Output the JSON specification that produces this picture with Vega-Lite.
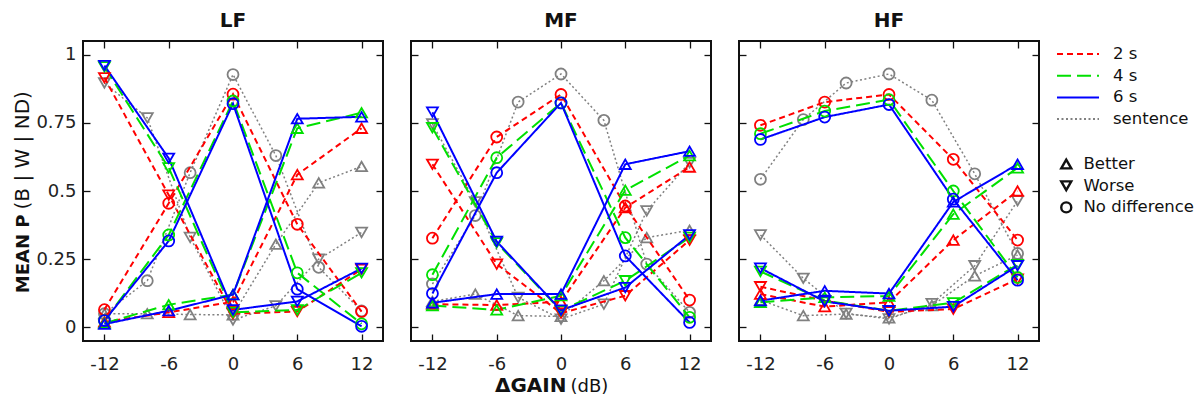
{
"$schema": "https://vega.github.io/schema/vega-lite/v6.json",
"padding": {"left": 11, "top": 10, "right": 0, "bottom": 0},
"config": {
  "font": "DejaVu Sans",
  "view": {"stroke": "#111", "strokeWidth": 2},
  "axis": {"domain": false, "grid": false, "tickColor": "#111", "tickWidth": 1.3, "tickSize": -7, "labelFlush": false, "labelFont": "DejaVu Sans", "labelFontSize": 18, "labelColor": "#222", "titleFont": "DejaVu Sans", "titleColor": "#111"},
  "axisX": {"labelPadding": 21},
  "axisY": {"labelPadding": 14},
  "legend": {"labelFont": "DejaVu Sans", "labelFontSize": 16.5, "labelColor": "#111", "symbolBaseStrokeColor": "#111", "symbolBaseFillColor": "transparent", "clipHeight": 20, "rowPadding": 1.7},
  "title": {"font": "DejaVu Sans", "fontSize": 20, "fontWeight": "bold", "color": "#111", "offset": 9, "frame": "group", "baseline": "alphabetic"}
},
"data": {"values": [
{"p":"LF","s":"sentence","t":"Better","x":-12,"y":0.05},{"p":"LF","s":"sentence","t":"Better","x":-8,"y":0.05},{"p":"LF","s":"sentence","t":"Better","x":-4,"y":0.047},{"p":"LF","s":"sentence","t":"Better","x":0,"y":0.046},{"p":"LF","s":"sentence","t":"Better","x":4,"y":0.305},{"p":"LF","s":"sentence","t":"Better","x":8,"y":0.53},{"p":"LF","s":"sentence","t":"Better","x":12,"y":0.59},
{"p":"LF","s":"sentence","t":"Worse","x":-12,"y":0.896},{"p":"LF","s":"sentence","t":"Worse","x":-8,"y":0.768},{"p":"LF","s":"sentence","t":"Worse","x":-4,"y":0.33},{"p":"LF","s":"sentence","t":"Worse","x":0,"y":0.027},{"p":"LF","s":"sentence","t":"Worse","x":4,"y":0.079},{"p":"LF","s":"sentence","t":"Worse","x":8,"y":0.25},{"p":"LF","s":"sentence","t":"Worse","x":12,"y":0.348},
{"p":"LF","s":"sentence","t":"No difference","x":-12,"y":0.05},{"p":"LF","s":"sentence","t":"No difference","x":-8,"y":0.171},{"p":"LF","s":"sentence","t":"No difference","x":-4,"y":0.567},{"p":"LF","s":"sentence","t":"No difference","x":0,"y":0.927},{"p":"LF","s":"sentence","t":"No difference","x":4,"y":0.63},{"p":"LF","s":"sentence","t":"No difference","x":8,"y":0.22},{"p":"LF","s":"sentence","t":"No difference","x":12,"y":0.06},
{"p":"LF","s":"2 s","t":"Better","x":-12,"y":0.02},{"p":"LF","s":"2 s","t":"Better","x":-6,"y":0.055},{"p":"LF","s":"2 s","t":"Better","x":0,"y":0.094},{"p":"LF","s":"2 s","t":"Better","x":6,"y":0.56},{"p":"LF","s":"2 s","t":"Better","x":12,"y":0.73},
{"p":"LF","s":"2 s","t":"Worse","x":-12,"y":0.915},{"p":"LF","s":"2 s","t":"Worse","x":-6,"y":0.485},{"p":"LF","s":"2 s","t":"Worse","x":0,"y":0.05},{"p":"LF","s":"2 s","t":"Worse","x":6,"y":0.058},{"p":"LF","s":"2 s","t":"Worse","x":12,"y":0.213},
{"p":"LF","s":"2 s","t":"No difference","x":-12,"y":0.065},{"p":"LF","s":"2 s","t":"No difference","x":-6,"y":0.455},{"p":"LF","s":"2 s","t":"No difference","x":0,"y":0.855},{"p":"LF","s":"2 s","t":"No difference","x":6,"y":0.378},{"p":"LF","s":"2 s","t":"No difference","x":12,"y":0.058},
{"p":"LF","s":"4 s","t":"Better","x":-12,"y":0.015},{"p":"LF","s":"4 s","t":"Better","x":-6,"y":0.083},{"p":"LF","s":"4 s","t":"Better","x":0,"y":0.12},{"p":"LF","s":"4 s","t":"Better","x":6,"y":0.73},{"p":"LF","s":"4 s","t":"Better","x":12,"y":0.787},
{"p":"LF","s":"4 s","t":"Worse","x":-12,"y":0.955},{"p":"LF","s":"4 s","t":"Worse","x":-6,"y":0.585},{"p":"LF","s":"4 s","t":"Worse","x":0,"y":0.055},{"p":"LF","s":"4 s","t":"Worse","x":6,"y":0.064},{"p":"LF","s":"4 s","t":"Worse","x":12,"y":0.2},
{"p":"LF","s":"4 s","t":"No difference","x":-12,"y":0.025},{"p":"LF","s":"4 s","t":"No difference","x":-6,"y":0.339},{"p":"LF","s":"4 s","t":"No difference","x":0,"y":0.83},{"p":"LF","s":"4 s","t":"No difference","x":6,"y":0.2},{"p":"LF","s":"4 s","t":"No difference","x":12,"y":0.013},
{"p":"LF","s":"6 s","t":"Better","x":-12,"y":0.012},{"p":"LF","s":"6 s","t":"Better","x":-6,"y":0.061},{"p":"LF","s":"6 s","t":"Better","x":0,"y":0.12},{"p":"LF","s":"6 s","t":"Better","x":6,"y":0.765},{"p":"LF","s":"6 s","t":"Better","x":12,"y":0.772},
{"p":"LF","s":"6 s","t":"Worse","x":-12,"y":0.96},{"p":"LF","s":"6 s","t":"Worse","x":-6,"y":0.62},{"p":"LF","s":"6 s","t":"Worse","x":0,"y":0.064},{"p":"LF","s":"6 s","t":"Worse","x":6,"y":0.095},{"p":"LF","s":"6 s","t":"Worse","x":12,"y":0.216},
{"p":"LF","s":"6 s","t":"No difference","x":-12,"y":0.025},{"p":"LF","s":"6 s","t":"No difference","x":-6,"y":0.317},{"p":"LF","s":"6 s","t":"No difference","x":0,"y":0.82},{"p":"LF","s":"6 s","t":"No difference","x":6,"y":0.14},{"p":"LF","s":"6 s","t":"No difference","x":12,"y":0.004},
{"p":"MF","s":"sentence","t":"Better","x":-12,"y":0.095},{"p":"MF","s":"sentence","t":"Better","x":-8,"y":0.122},{"p":"MF","s":"sentence","t":"Better","x":-4,"y":0.043},{"p":"MF","s":"sentence","t":"Better","x":0,"y":0.04},{"p":"MF","s":"sentence","t":"Better","x":4,"y":0.171},{"p":"MF","s":"sentence","t":"Better","x":8,"y":0.329},{"p":"MF","s":"sentence","t":"Better","x":12,"y":0.356},
{"p":"MF","s":"sentence","t":"Worse","x":-12,"y":0.746},{"p":"MF","s":"sentence","t":"Worse","x":-8,"y":0.46},{"p":"MF","s":"sentence","t":"Worse","x":-4,"y":0.11},{"p":"MF","s":"sentence","t":"Worse","x":0,"y":0.03},{"p":"MF","s":"sentence","t":"Worse","x":4,"y":0.085},{"p":"MF","s":"sentence","t":"Worse","x":8,"y":0.427},{"p":"MF","s":"sentence","t":"Worse","x":12,"y":0.604},
{"p":"MF","s":"sentence","t":"No difference","x":-12,"y":0.159},{"p":"MF","s":"sentence","t":"No difference","x":-8,"y":0.41},{"p":"MF","s":"sentence","t":"No difference","x":-4,"y":0.826},{"p":"MF","s":"sentence","t":"No difference","x":0,"y":0.929},{"p":"MF","s":"sentence","t":"No difference","x":4,"y":0.759},{"p":"MF","s":"sentence","t":"No difference","x":8,"y":0.232},{"p":"MF","s":"sentence","t":"No difference","x":12,"y":0.055},
{"p":"MF","s":"2 s","t":"Better","x":-12,"y":0.085},{"p":"MF","s":"2 s","t":"Better","x":-6,"y":0.082},{"p":"MF","s":"2 s","t":"Better","x":0,"y":0.094},{"p":"MF","s":"2 s","t":"Better","x":6,"y":0.439},{"p":"MF","s":"2 s","t":"Better","x":12,"y":0.588},
{"p":"MF","s":"2 s","t":"Worse","x":-12,"y":0.598},{"p":"MF","s":"2 s","t":"Worse","x":-6,"y":0.232},{"p":"MF","s":"2 s","t":"Worse","x":0,"y":0.052},{"p":"MF","s":"2 s","t":"Worse","x":6,"y":0.116},{"p":"MF","s":"2 s","t":"Worse","x":12,"y":0.32},
{"p":"MF","s":"2 s","t":"No difference","x":-12,"y":0.327},{"p":"MF","s":"2 s","t":"No difference","x":-6,"y":0.698},{"p":"MF","s":"2 s","t":"No difference","x":0,"y":0.854},{"p":"MF","s":"2 s","t":"No difference","x":6,"y":0.445},{"p":"MF","s":"2 s","t":"No difference","x":12,"y":0.1},
{"p":"MF","s":"4 s","t":"Better","x":-12,"y":0.08},{"p":"MF","s":"4 s","t":"Better","x":-6,"y":0.064},{"p":"MF","s":"4 s","t":"Better","x":0,"y":0.116},{"p":"MF","s":"4 s","t":"Better","x":6,"y":0.503},{"p":"MF","s":"4 s","t":"Better","x":12,"y":0.63},
{"p":"MF","s":"4 s","t":"Worse","x":-12,"y":0.732},{"p":"MF","s":"4 s","t":"Worse","x":-6,"y":0.31},{"p":"MF","s":"4 s","t":"Worse","x":0,"y":0.061},{"p":"MF","s":"4 s","t":"Worse","x":6,"y":0.171},{"p":"MF","s":"4 s","t":"Worse","x":12,"y":0.33},
{"p":"MF","s":"4 s","t":"No difference","x":-12,"y":0.193},{"p":"MF","s":"4 s","t":"No difference","x":-6,"y":0.622},{"p":"MF","s":"4 s","t":"No difference","x":0,"y":0.823},{"p":"MF","s":"4 s","t":"No difference","x":6,"y":0.329},{"p":"MF","s":"4 s","t":"No difference","x":12,"y":0.037},
{"p":"MF","s":"6 s","t":"Better","x":-12,"y":0.09},{"p":"MF","s":"6 s","t":"Better","x":-6,"y":0.122},{"p":"MF","s":"6 s","t":"Better","x":0,"y":0.122},{"p":"MF","s":"6 s","t":"Better","x":6,"y":0.598},{"p":"MF","s":"6 s","t":"Better","x":12,"y":0.646},
{"p":"MF","s":"6 s","t":"Worse","x":-12,"y":0.789},{"p":"MF","s":"6 s","t":"Worse","x":-6,"y":0.315},{"p":"MF","s":"6 s","t":"Worse","x":0,"y":0.063},{"p":"MF","s":"6 s","t":"Worse","x":6,"y":0.146},{"p":"MF","s":"6 s","t":"Worse","x":12,"y":0.339},
{"p":"MF","s":"6 s","t":"No difference","x":-12,"y":0.124},{"p":"MF","s":"6 s","t":"No difference","x":-6,"y":0.567},{"p":"MF","s":"6 s","t":"No difference","x":0,"y":0.823},{"p":"MF","s":"6 s","t":"No difference","x":6,"y":0.262},{"p":"MF","s":"6 s","t":"No difference","x":12,"y":0.018},
{"p":"HF","s":"sentence","t":"Better","x":-12,"y":0.1},{"p":"HF","s":"sentence","t":"Better","x":-8,"y":0.043},{"p":"HF","s":"sentence","t":"Better","x":-4,"y":0.049},{"p":"HF","s":"sentence","t":"Better","x":0,"y":0.035},{"p":"HF","s":"sentence","t":"Better","x":4,"y":0.08},{"p":"HF","s":"sentence","t":"Better","x":8,"y":0.189},{"p":"HF","s":"sentence","t":"Better","x":12,"y":0.265},
{"p":"HF","s":"sentence","t":"Worse","x":-12,"y":0.339},{"p":"HF","s":"sentence","t":"Worse","x":-8,"y":0.18},{"p":"HF","s":"sentence","t":"Worse","x":-4,"y":0.051},{"p":"HF","s":"sentence","t":"Worse","x":0,"y":0.031},{"p":"HF","s":"sentence","t":"Worse","x":4,"y":0.087},{"p":"HF","s":"sentence","t":"Worse","x":8,"y":0.226},{"p":"HF","s":"sentence","t":"Worse","x":12,"y":0.464},
{"p":"HF","s":"sentence","t":"No difference","x":-12,"y":0.543},{"p":"HF","s":"sentence","t":"No difference","x":-8,"y":0.762},{"p":"HF","s":"sentence","t":"No difference","x":-4,"y":0.896},{"p":"HF","s":"sentence","t":"No difference","x":0,"y":0.929},{"p":"HF","s":"sentence","t":"No difference","x":4,"y":0.833},{"p":"HF","s":"sentence","t":"No difference","x":8,"y":0.563},{"p":"HF","s":"sentence","t":"No difference","x":12,"y":0.271},
{"p":"HF","s":"2 s","t":"Better","x":-12,"y":0.122},{"p":"HF","s":"2 s","t":"Better","x":-6,"y":0.076},{"p":"HF","s":"2 s","t":"Better","x":0,"y":0.092},{"p":"HF","s":"2 s","t":"Better","x":6,"y":0.32},{"p":"HF","s":"2 s","t":"Better","x":12,"y":0.5},
{"p":"HF","s":"2 s","t":"Worse","x":-12,"y":0.149},{"p":"HF","s":"2 s","t":"Worse","x":-6,"y":0.098},{"p":"HF","s":"2 s","t":"Worse","x":0,"y":0.057},{"p":"HF","s":"2 s","t":"Worse","x":6,"y":0.067},{"p":"HF","s":"2 s","t":"Worse","x":12,"y":0.177},
{"p":"HF","s":"2 s","t":"No difference","x":-12,"y":0.741},{"p":"HF","s":"2 s","t":"No difference","x":-6,"y":0.826},{"p":"HF","s":"2 s","t":"No difference","x":0,"y":0.854},{"p":"HF","s":"2 s","t":"No difference","x":6,"y":0.616},{"p":"HF","s":"2 s","t":"No difference","x":12,"y":0.32},
{"p":"HF","s":"4 s","t":"Better","x":-12,"y":0.092},{"p":"HF","s":"4 s","t":"Better","x":-6,"y":0.11},{"p":"HF","s":"4 s","t":"Better","x":0,"y":0.115},{"p":"HF","s":"4 s","t":"Better","x":6,"y":0.415},{"p":"HF","s":"4 s","t":"Better","x":12,"y":0.585},
{"p":"HF","s":"4 s","t":"Worse","x":-12,"y":0.205},{"p":"HF","s":"4 s","t":"Worse","x":-6,"y":0.098},{"p":"HF","s":"4 s","t":"Worse","x":0,"y":0.061},{"p":"HF","s":"4 s","t":"Worse","x":6,"y":0.09},{"p":"HF","s":"4 s","t":"Worse","x":12,"y":0.23},
{"p":"HF","s":"4 s","t":"No difference","x":-12,"y":0.71},{"p":"HF","s":"4 s","t":"No difference","x":-6,"y":0.793},{"p":"HF","s":"4 s","t":"No difference","x":0,"y":0.835},{"p":"HF","s":"4 s","t":"No difference","x":6,"y":0.5},{"p":"HF","s":"4 s","t":"No difference","x":12,"y":0.183},
{"p":"HF","s":"6 s","t":"Better","x":-12,"y":0.098},{"p":"HF","s":"6 s","t":"Better","x":-6,"y":0.134},{"p":"HF","s":"6 s","t":"Better","x":0,"y":0.124},{"p":"HF","s":"6 s","t":"Better","x":6,"y":0.46},{"p":"HF","s":"6 s","t":"Better","x":12,"y":0.598},
{"p":"HF","s":"6 s","t":"Worse","x":-12,"y":0.217},{"p":"HF","s":"6 s","t":"Worse","x":-6,"y":0.095},{"p":"HF","s":"6 s","t":"Worse","x":0,"y":0.061},{"p":"HF","s":"6 s","t":"Worse","x":6,"y":0.076},{"p":"HF","s":"6 s","t":"Worse","x":12,"y":0.226},
{"p":"HF","s":"6 s","t":"No difference","x":-12,"y":0.689},{"p":"HF","s":"6 s","t":"No difference","x":-6,"y":0.771},{"p":"HF","s":"6 s","t":"No difference","x":0,"y":0.817},{"p":"HF","s":"6 s","t":"No difference","x":6,"y":0.47},{"p":"HF","s":"6 s","t":"No difference","x":12,"y":0.173}
]},
"spacing": 24,
"hconcat": [
{
  "title": {"text": "LF"},
  "width": 300, "height": 300,
  "transform": [{"filter": "datum.p == 'LF'"}],
  "resolve": {"axis": {"x": "independent", "y": "independent"}},
  "layer": [
    {"transform": [{"filter": "datum.s == 'sentence'"}],
     "mark": {"type": "line", "strokeWidth": 1.5},
     "encoding": {
       "x": {"field": "x", "type": "quantitative", "scale": {"domain": [-14, 14], "nice": false, "zero": false}, "axis": {"orient": "bottom", "values": [-12, -6, 0, 6, 12], "labelExpr": "'' + datum.value", "title": null}},
       "y": {"field": "y", "type": "quantitative", "scale": {"domain": [-0.05, 1.05], "nice": false, "zero": false}, "axis": {"orient": "left", "values": [0, 0.25, 0.5, 0.75, 1], "labelExpr": "'' + datum.value", "title": "MEAN P", "titleFontWeight": "bold", "titleFontSize": 18, "titleAngle": -90, "titleAlign": "right", "titleBaseline": "alphabetic", "titleX": -55, "titleY": 173}},
       "color": {"field": "s", "type": "nominal", "scale": {"domain": ["2 s", "4 s", "6 s", "sentence"], "range": ["#ff0000", "#00e000", "#0000ff", "#808080"]}, "legend": {"title": null, "orient": "none", "legendX": 973, "legendY": 3, "symbolType": "stroke", "symbolSize": 1764, "symbolStrokeWidth": 2, "labelOffset": 13}},
       "strokeDash": {"field": "s", "type": "nominal", "scale": {"domain": ["2 s", "4 s", "6 s", "sentence"], "range": [[6, 4], [14, 6], [1, 0], [2, 2.5]]}, "legend": {"title": null, "orient": "none", "legendX": 973, "legendY": 3, "symbolType": "stroke", "symbolSize": 1764, "symbolStrokeWidth": 2, "labelOffset": 13}},
       "detail": {"field": "t"}
     }},
    {"transform": [{"filter": "datum.s == 'sentence'"}],
     "mark": {"type": "point", "filled": false, "size": 120, "strokeWidth": 1.8, "opacity": 1},
     "encoding": {
       "x": {"field": "x", "type": "quantitative", "scale": {"domain": [-14, 14], "nice": false, "zero": false}, "axis": {"orient": "top", "values": [-12, -6, 0, 6, 12], "labels": false, "title": null}},
       "y": {"field": "y", "type": "quantitative", "scale": {"domain": [-0.05, 1.05], "nice": false, "zero": false}, "axis": {"orient": "right", "values": [0, 0.25, 0.5, 0.75, 1], "labels": false, "title": null}},
       "color": {"field": "s", "type": "nominal", "scale": {"domain": ["2 s", "4 s", "6 s", "sentence"], "range": ["#ff0000", "#00e000", "#0000ff", "#808080"]}, "legend": {"title": null, "orient": "none", "legendX": 973, "legendY": 3, "symbolType": "stroke", "symbolSize": 1764, "symbolStrokeWidth": 2, "labelOffset": 13}},
       "shape": {"field": "t", "type": "nominal", "scale": {"domain": ["Better", "Worse", "No difference"], "range": ["triangle-up", "triangle-down", "circle"]}, "legend": {"title": null, "orient": "none", "legendX": 975, "legendY": 113, "symbolSize": 100, "symbolStrokeWidth": 2.4, "labelOffset": 9}}
     }},
    {"transform": [{"filter": "datum.s != 'sentence'"}],
     "mark": {"type": "line", "strokeWidth": 2},
     "encoding": {
       "x": {"field": "x", "type": "quantitative", "scale": {"domain": [-14, 14], "nice": false, "zero": false}, "axis": null},
       "y": {"field": "y", "type": "quantitative", "scale": {"domain": [-0.05, 1.05], "nice": false, "zero": false}, "axis": {"orient": "left", "values": [0, 0.25, 0.5, 0.75, 1], "ticks": false, "labels": false, "title": "(B | W | ND)", "titleFontWeight": "normal", "titleFontSize": 20, "titleAngle": -90, "titleAlign": "left", "titleBaseline": "alphabetic", "titleX": -55, "titleY": 168}},
       "color": {"field": "s", "type": "nominal", "scale": {"domain": ["2 s", "4 s", "6 s", "sentence"], "range": ["#ff0000", "#00e000", "#0000ff", "#808080"]}, "legend": {"title": null, "orient": "none", "legendX": 973, "legendY": 3, "symbolType": "stroke", "symbolSize": 1764, "symbolStrokeWidth": 2, "labelOffset": 13}},
       "strokeDash": {"field": "s", "type": "nominal", "scale": {"domain": ["2 s", "4 s", "6 s", "sentence"], "range": [[6, 4], [14, 6], [1, 0], [2, 2.5]]}, "legend": {"title": null, "orient": "none", "legendX": 973, "legendY": 3, "symbolType": "stroke", "symbolSize": 1764, "symbolStrokeWidth": 2, "labelOffset": 13}},
       "detail": {"field": "t"}
     }},
    {"transform": [{"filter": "datum.s != 'sentence'"}],
     "mark": {"type": "point", "filled": false, "size": 120, "strokeWidth": 1.8, "opacity": 1},
     "encoding": {
       "x": {"field": "x", "type": "quantitative", "scale": {"domain": [-14, 14], "nice": false, "zero": false}, "axis": null},
       "y": {"field": "y", "type": "quantitative", "scale": {"domain": [-0.05, 1.05], "nice": false, "zero": false}, "axis": null},
       "color": {"field": "s", "type": "nominal", "scale": {"domain": ["2 s", "4 s", "6 s", "sentence"], "range": ["#ff0000", "#00e000", "#0000ff", "#808080"]}, "legend": {"title": null, "orient": "none", "legendX": 973, "legendY": 3, "symbolType": "stroke", "symbolSize": 1764, "symbolStrokeWidth": 2, "labelOffset": 13}},
       "shape": {"field": "t", "type": "nominal", "scale": {"domain": ["Better", "Worse", "No difference"], "range": ["triangle-up", "triangle-down", "circle"]}, "legend": {"title": null, "orient": "none", "legendX": 975, "legendY": 113, "symbolSize": 100, "symbolStrokeWidth": 2.4, "labelOffset": 9}}
     }}
  ]
},
{
  "title": {"text": "MF"},
  "width": 300, "height": 300,
  "transform": [{"filter": "datum.p == 'MF'"}],
  "resolve": {"axis": {"x": "independent", "y": "independent"}},
  "layer": [
    {"transform": [{"filter": "datum.s == 'sentence'"}],
     "mark": {"type": "line", "strokeWidth": 1.5},
     "encoding": {
       "x": {"field": "x", "type": "quantitative", "scale": {"domain": [-14, 14], "nice": false, "zero": false}, "axis": {"orient": "bottom", "values": [-12, -6, 0, 6, 12], "labelExpr": "'' + datum.value", "title": "ΔGAIN", "titleFontWeight": "bold", "titleFontSize": 20, "titleAlign": "right", "titleBaseline": "alphabetic", "titleAngle": 0, "titleX": 155, "titleY": 50}},
       "y": {"field": "y", "type": "quantitative", "scale": {"domain": [-0.05, 1.05], "nice": false, "zero": false}, "axis": {"orient": "left", "values": [0, 0.25, 0.5, 0.75, 1], "labels": false, "title": null}},
       "color": {"field": "s", "type": "nominal", "scale": {"domain": ["2 s", "4 s", "6 s", "sentence"], "range": ["#ff0000", "#00e000", "#0000ff", "#808080"]}, "legend": {"title": null, "orient": "none", "legendX": 973, "legendY": 3, "symbolType": "stroke", "symbolSize": 1764, "symbolStrokeWidth": 2, "labelOffset": 13}},
       "strokeDash": {"field": "s", "type": "nominal", "scale": {"domain": ["2 s", "4 s", "6 s", "sentence"], "range": [[6, 4], [14, 6], [1, 0], [2, 2.5]]}, "legend": {"title": null, "orient": "none", "legendX": 973, "legendY": 3, "symbolType": "stroke", "symbolSize": 1764, "symbolStrokeWidth": 2, "labelOffset": 13}},
       "detail": {"field": "t"}
     }},
    {"transform": [{"filter": "datum.s == 'sentence'"}],
     "mark": {"type": "point", "filled": false, "size": 120, "strokeWidth": 1.8, "opacity": 1},
     "encoding": {
       "x": {"field": "x", "type": "quantitative", "scale": {"domain": [-14, 14], "nice": false, "zero": false}, "axis": {"orient": "top", "values": [-12, -6, 0, 6, 12], "labels": false, "title": null}},
       "y": {"field": "y", "type": "quantitative", "scale": {"domain": [-0.05, 1.05], "nice": false, "zero": false}, "axis": {"orient": "right", "values": [0, 0.25, 0.5, 0.75, 1], "labels": false, "title": null}},
       "color": {"field": "s", "type": "nominal", "scale": {"domain": ["2 s", "4 s", "6 s", "sentence"], "range": ["#ff0000", "#00e000", "#0000ff", "#808080"]}, "legend": {"title": null, "orient": "none", "legendX": 973, "legendY": 3, "symbolType": "stroke", "symbolSize": 1764, "symbolStrokeWidth": 2, "labelOffset": 13}},
       "shape": {"field": "t", "type": "nominal", "scale": {"domain": ["Better", "Worse", "No difference"], "range": ["triangle-up", "triangle-down", "circle"]}, "legend": {"title": null, "orient": "none", "legendX": 975, "legendY": 113, "symbolSize": 100, "symbolStrokeWidth": 2.4, "labelOffset": 9}}
     }},
    {"transform": [{"filter": "datum.s != 'sentence'"}],
     "mark": {"type": "line", "strokeWidth": 2},
     "encoding": {
       "x": {"field": "x", "type": "quantitative", "scale": {"domain": [-14, 14], "nice": false, "zero": false}, "axis": {"orient": "bottom", "values": [-12, -6, 0, 6, 12], "ticks": false, "labels": false, "title": "(dB)", "titleFontWeight": "normal", "titleFontSize": 18, "titleAlign": "left", "titleBaseline": "alphabetic", "titleAngle": 0, "titleX": 159, "titleY": 50}},
       "y": {"field": "y", "type": "quantitative", "scale": {"domain": [-0.05, 1.05], "nice": false, "zero": false}, "axis": null},
       "color": {"field": "s", "type": "nominal", "scale": {"domain": ["2 s", "4 s", "6 s", "sentence"], "range": ["#ff0000", "#00e000", "#0000ff", "#808080"]}, "legend": {"title": null, "orient": "none", "legendX": 973, "legendY": 3, "symbolType": "stroke", "symbolSize": 1764, "symbolStrokeWidth": 2, "labelOffset": 13}},
       "strokeDash": {"field": "s", "type": "nominal", "scale": {"domain": ["2 s", "4 s", "6 s", "sentence"], "range": [[6, 4], [14, 6], [1, 0], [2, 2.5]]}, "legend": {"title": null, "orient": "none", "legendX": 973, "legendY": 3, "symbolType": "stroke", "symbolSize": 1764, "symbolStrokeWidth": 2, "labelOffset": 13}},
       "detail": {"field": "t"}
     }},
    {"transform": [{"filter": "datum.s != 'sentence'"}],
     "mark": {"type": "point", "filled": false, "size": 120, "strokeWidth": 1.8, "opacity": 1},
     "encoding": {
       "x": {"field": "x", "type": "quantitative", "scale": {"domain": [-14, 14], "nice": false, "zero": false}, "axis": null},
       "y": {"field": "y", "type": "quantitative", "scale": {"domain": [-0.05, 1.05], "nice": false, "zero": false}, "axis": null},
       "color": {"field": "s", "type": "nominal", "scale": {"domain": ["2 s", "4 s", "6 s", "sentence"], "range": ["#ff0000", "#00e000", "#0000ff", "#808080"]}, "legend": {"title": null, "orient": "none", "legendX": 973, "legendY": 3, "symbolType": "stroke", "symbolSize": 1764, "symbolStrokeWidth": 2, "labelOffset": 13}},
       "shape": {"field": "t", "type": "nominal", "scale": {"domain": ["Better", "Worse", "No difference"], "range": ["triangle-up", "triangle-down", "circle"]}, "legend": {"title": null, "orient": "none", "legendX": 975, "legendY": 113, "symbolSize": 100, "symbolStrokeWidth": 2.4, "labelOffset": 9}}
     }}
  ]
},
{
  "title": {"text": "HF"},
  "width": 300, "height": 300,
  "transform": [{"filter": "datum.p == 'HF'"}],
  "resolve": {"axis": {"x": "independent", "y": "independent"}},
  "layer": [
    {"transform": [{"filter": "datum.s == 'sentence'"}],
     "mark": {"type": "line", "strokeWidth": 1.5},
     "encoding": {
       "x": {"field": "x", "type": "quantitative", "scale": {"domain": [-14, 14], "nice": false, "zero": false}, "axis": {"orient": "bottom", "values": [-12, -6, 0, 6, 12], "labelExpr": "'' + datum.value", "title": null}},
       "y": {"field": "y", "type": "quantitative", "scale": {"domain": [-0.05, 1.05], "nice": false, "zero": false}, "axis": {"orient": "left", "values": [0, 0.25, 0.5, 0.75, 1], "labels": false, "title": null}},
       "color": {"field": "s", "type": "nominal", "scale": {"domain": ["2 s", "4 s", "6 s", "sentence"], "range": ["#ff0000", "#00e000", "#0000ff", "#808080"]}, "legend": {"title": null, "orient": "none", "legendX": 973, "legendY": 3, "symbolType": "stroke", "symbolSize": 1764, "symbolStrokeWidth": 2, "labelOffset": 13}},
       "strokeDash": {"field": "s", "type": "nominal", "scale": {"domain": ["2 s", "4 s", "6 s", "sentence"], "range": [[6, 4], [14, 6], [1, 0], [2, 2.5]]}, "legend": {"title": null, "orient": "none", "legendX": 973, "legendY": 3, "symbolType": "stroke", "symbolSize": 1764, "symbolStrokeWidth": 2, "labelOffset": 13}},
       "detail": {"field": "t"}
     }},
    {"transform": [{"filter": "datum.s == 'sentence'"}],
     "mark": {"type": "point", "filled": false, "size": 120, "strokeWidth": 1.8, "opacity": 1},
     "encoding": {
       "x": {"field": "x", "type": "quantitative", "scale": {"domain": [-14, 14], "nice": false, "zero": false}, "axis": {"orient": "top", "values": [-12, -6, 0, 6, 12], "labels": false, "title": null}},
       "y": {"field": "y", "type": "quantitative", "scale": {"domain": [-0.05, 1.05], "nice": false, "zero": false}, "axis": {"orient": "right", "values": [0, 0.25, 0.5, 0.75, 1], "labels": false, "title": null}},
       "color": {"field": "s", "type": "nominal", "scale": {"domain": ["2 s", "4 s", "6 s", "sentence"], "range": ["#ff0000", "#00e000", "#0000ff", "#808080"]}, "legend": {"title": null, "orient": "none", "legendX": 973, "legendY": 3, "symbolType": "stroke", "symbolSize": 1764, "symbolStrokeWidth": 2, "labelOffset": 13}},
       "shape": {"field": "t", "type": "nominal", "scale": {"domain": ["Better", "Worse", "No difference"], "range": ["triangle-up", "triangle-down", "circle"]}, "legend": {"title": null, "orient": "none", "legendX": 975, "legendY": 113, "symbolSize": 100, "symbolStrokeWidth": 2.4, "labelOffset": 9}}
     }},
    {"transform": [{"filter": "datum.s != 'sentence'"}],
     "mark": {"type": "line", "strokeWidth": 2},
     "encoding": {
       "x": {"field": "x", "type": "quantitative", "scale": {"domain": [-14, 14], "nice": false, "zero": false}, "axis": null},
       "y": {"field": "y", "type": "quantitative", "scale": {"domain": [-0.05, 1.05], "nice": false, "zero": false}, "axis": null},
       "color": {"field": "s", "type": "nominal", "scale": {"domain": ["2 s", "4 s", "6 s", "sentence"], "range": ["#ff0000", "#00e000", "#0000ff", "#808080"]}, "legend": {"title": null, "orient": "none", "legendX": 973, "legendY": 3, "symbolType": "stroke", "symbolSize": 1764, "symbolStrokeWidth": 2, "labelOffset": 13}},
       "strokeDash": {"field": "s", "type": "nominal", "scale": {"domain": ["2 s", "4 s", "6 s", "sentence"], "range": [[6, 4], [14, 6], [1, 0], [2, 2.5]]}, "legend": {"title": null, "orient": "none", "legendX": 973, "legendY": 3, "symbolType": "stroke", "symbolSize": 1764, "symbolStrokeWidth": 2, "labelOffset": 13}},
       "detail": {"field": "t"}
     }},
    {"transform": [{"filter": "datum.s != 'sentence'"}],
     "mark": {"type": "point", "filled": false, "size": 120, "strokeWidth": 1.8, "opacity": 1},
     "encoding": {
       "x": {"field": "x", "type": "quantitative", "scale": {"domain": [-14, 14], "nice": false, "zero": false}, "axis": null},
       "y": {"field": "y", "type": "quantitative", "scale": {"domain": [-0.05, 1.05], "nice": false, "zero": false}, "axis": null},
       "color": {"field": "s", "type": "nominal", "scale": {"domain": ["2 s", "4 s", "6 s", "sentence"], "range": ["#ff0000", "#00e000", "#0000ff", "#808080"]}, "legend": {"title": null, "orient": "none", "legendX": 973, "legendY": 3, "symbolType": "stroke", "symbolSize": 1764, "symbolStrokeWidth": 2, "labelOffset": 13}},
       "shape": {"field": "t", "type": "nominal", "scale": {"domain": ["Better", "Worse", "No difference"], "range": ["triangle-up", "triangle-down", "circle"]}, "legend": {"title": null, "orient": "none", "legendX": 975, "legendY": 113, "symbolSize": 100, "symbolStrokeWidth": 2.4, "labelOffset": 9}}
     }}
  ]
}
]
}
